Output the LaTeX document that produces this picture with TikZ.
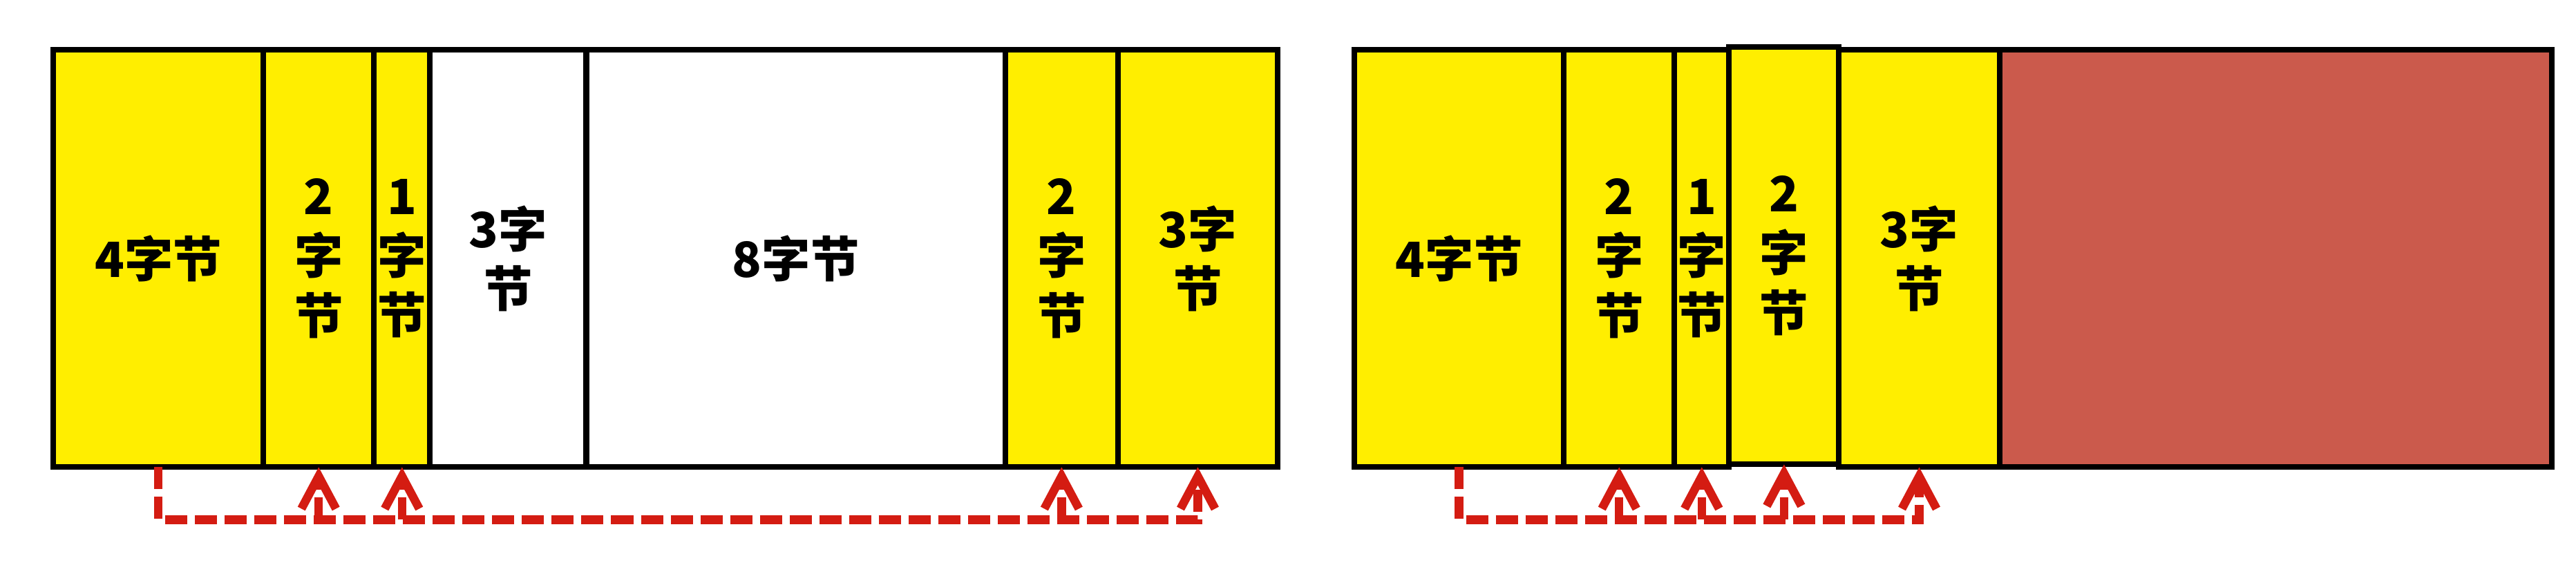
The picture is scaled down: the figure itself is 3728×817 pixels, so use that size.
\documentclass[tikz,border=0pt]{standalone}
\usepackage{fontspec}
\newfontfamily\cjk{Noto Sans CJK SC}
\usepackage{tikz}
\usetikzlibrary{positioning}
\usetikzlibrary{arrows.meta}
\definecolor{jaune}{RGB}{255,238,0}
\definecolor{rougebrique}{RGB}{203,90,76}
\definecolor{rougefleche}{RGB}{212,28,18}

\begin{document}
\begin{tikzpicture}[x=0.01cm,y=0.01cm]
% définition des paramètres
\tikzstyle caseoctet=[draw=black,line width=2.3pt,minimum height=6.04cm,inner sep=0pt,outer sep=0pt,align=center,font=\cjk\bfseries\fontsize{20}{24.5}\selectfont]
\tikzstyle casejaune=[caseoctet,fill=jaune]
\tikzstyle caseblanche=[caseoctet,fill=white]
\tikzstyle caserouge=[caseoctet,fill=rougebrique]
\tikzstyle pointille=[color=rougefleche,line width=3.5pt,dash pattern=on 0.32cm off 0.11cm]
\tikzstyle fleche=[pointille,-{Straight Barb[length=0.47cm,width=0.5cm]}]
\useasboundingbox (0,0) rectangle (3728,817);
% la structure avec les trous
\node[casejaune,minimum width=3.04cm,anchor=north west] (L1) at (77,745) {4字节};
\node[casejaune,minimum width=1.60cm,right=0pt of L1] (L2) {2\\字\\节};
\node[casejaune,minimum width=0.81cm,right=0pt of L2] (L3) {1\\字\\节};
\node[caseblanche,minimum width=2.26cm,right=0pt of L3] (L4) {3字\\节};
\node[caseblanche,minimum width=6.06cm,right=0pt of L4] (L5) {8字节};
\node[casejaune,minimum width=1.63cm,right=0pt of L5] (L6) {2\\字\\节};
\node[casejaune,minimum width=2.31cm,right=0pt of L6] (L7) {3字\\节};
% la structure tassée
\node[casejaune,minimum width=3.03cm,anchor=north west] (R1) at (1960,745) {4字节};
\node[casejaune,minimum width=1.60cm,right=0pt of R1] (R2) {2\\字\\节};
\node[casejaune,minimum width=0.79cm,right=0pt of R2] (R3) {1\\字\\节};
\node[casejaune,minimum width=1.59cm,right=0pt of R3,yshift=0.04cm] (R4) {2\\字\\节};
\node[casejaune,minimum width=2.32cm,right=0pt of R4,yshift=-0.04cm] (R5) {3字\\节};
\node[caserouge,minimum width=7.99cm,right=0pt of R5] (R6) {};
% les flèches
\coordinate[below=0.76cm of L1.south] (lbase);
\draw[fleche] (L1.south) -- (lbase) -| (L7.south);
\foreach \c in {L2,L3,L6}
    \draw[fleche] (\c.south |- lbase) -- (\c.south);
\coordinate[below=0.76cm of R1.south] (rbase);
\draw[fleche] (R1.south) -- (rbase) -| (R5.south);
\foreach \c in {R2,R3,R4}
    \draw[fleche] (\c.south |- rbase) -- (\c.south);
\end{tikzpicture}
\end{document}
